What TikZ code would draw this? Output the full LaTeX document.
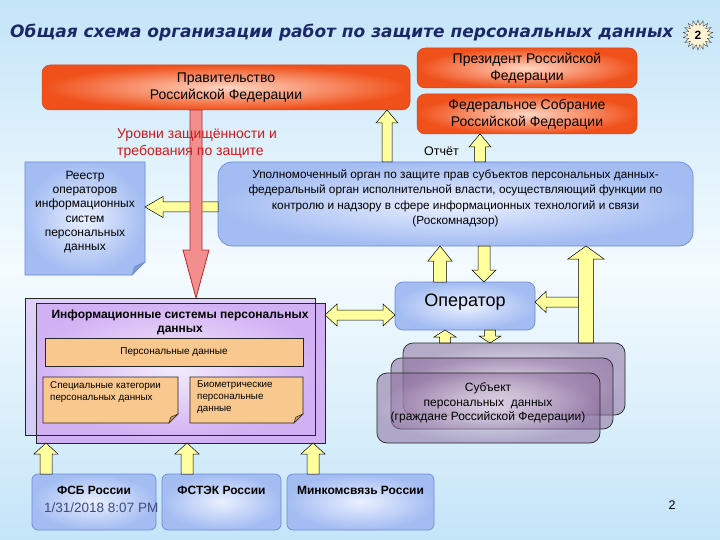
\documentclass[tikz,border=0pt]{standalone}
\usepackage{fontspec}
\setmainfont{Liberation Sans}
\newfontfamily\titlefont{DejaVu Sans}
\usetikzlibrary{calc,shapes.symbols}
\definecolor{bgblue}{HTML}{C4E4F8}
\definecolor{bgmid}{HTML}{F4FBFE}
\definecolor{orangeo}{HTML}{F0501A}
\definecolor{orangei}{HTML}{FFD6C4}
\definecolor{orangeline}{HTML}{D8441A}
\definecolor{blueo}{HTML}{A3BCF2}
\definecolor{bluei}{HTML}{EAF0FF}
\definecolor{blueline}{HTML}{6F8AD6}
\definecolor{lavo}{HTML}{D2B0F4}
\definecolor{lavi}{HTML}{F4ECFC}
\definecolor{pdorange}{HTML}{F9C88E}
\definecolor{subjo}{HTML}{8E6E9E}
\definecolor{subji}{HTML}{F0E8F2}
\definecolor{yfill}{HTML}{FFFF9E}
\definecolor{rfill}{HTML}{F28E8E}
\definecolor{rline}{HTML}{B8282A}
\definecolor{navy}{HTML}{1A2868}
\definecolor{redtext}{HTML}{D01818}
\definecolor{datecol}{HTML}{3E4C7E}
\definecolor{badgefill}{HTML}{FFF3D4}
\definecolor{foldblue}{HTML}{7E98DA}
\definecolor{foldorange}{HTML}{D89A5A}

\newcommand\myVarrow[6]{\filldraw[#1] let \p1=#2, \p2=#3, \n1={((\y2>\y1)*2-1)*#6} in
  (\x1-#4,\y1) -- (\x1-#4,\y2-\n1) -- (\x1-#5,\y2-\n1) -- (\x1,\y2) -- (\x1+#5,\y2-\n1) -- (\x1+#4,\y2-\n1) -- (\x1+#4,\y1) -- cycle;}
\newcommand\myHarrow[6]{\filldraw[#1] let \p1=#2, \p2=#3, \n1={((\x2>\x1)*2-1)*#6} in
  (\x1,\y1-#4) -- (\x2-\n1,\y1-#4) -- (\x2-\n1,\y1-#5) -- (\x2,\y1) -- (\x2-\n1,\y1+#5) -- (\x2-\n1,\y1+#4) -- (\x1,\y1+#4) -- cycle;}
\newcommand\myDHarrow[6]{\filldraw[#1] let \p1=#2, \p2=#3, \n1={((\x2>\x1)*2-1)*#6} in
  (\x1,\y1) -- (\x1+\n1,\y1-#5) -- (\x1+\n1,\y1-#4) -- (\x2-\n1,\y1-#4) -- (\x2-\n1,\y1-#5) -- (\x2,\y1) -- (\x2-\n1,\y1+#5) -- (\x2-\n1,\y1+#4) -- (\x1+\n1,\y1+#4) -- (\x1+\n1,\y1+#5) -- cycle;}
\newcommand\myNote[4]{%
  \path[#3] (#1.north west) -- (#1.north east) -- ([yshift=#2]#1.south east) -- ([xshift=-#2]#1.south east) -- (#1.south west) -- cycle;
  \path[#4] ([yshift=#2]#1.south east) -- ([xshift=-#2]#1.south east) -- ([xshift=-0.8*#2,yshift=0.65*#2]#1.south east) -- cycle;}

\tikzset{
  fs/.style 2 args={font=\fontsize{#1}{#2}\selectfont},
  obox/.style={rounded corners=8pt, draw=orangeline, line width=0.5pt, inner color=orangei, outer color=orangeo},
  bbox/.style={draw=blueline, line width=0.7pt, inner color=bluei, outer color=blueo},
  lbox/.style={draw=black!85, line width=0.7pt, inner color=lavi, outer color=lavo},
  sbox/.style={rounded corners=10pt, draw=black!85, line width=0.7pt, inner color=subji, outer color=subjo, fill opacity=0.55},
  shape0/.style={inner sep=0pt, outer sep=0pt},
  yarr/.style={fill=yfill, draw=black, line width=0.5pt, line join=miter},
  rarr/.style={fill=rfill, draw=rline, line width=0.8pt, line join=miter},
}

\begin{document}
\begin{tikzpicture}[x=1pt,y=-1pt]
\useasboundingbox (0,0) rectangle (720,540);
\fill[top color=bgblue, bottom color=bgblue, middle color=bgmid] (0,0) rectangle (720,540);

% title
\node[anchor=west, text=navy, inner sep=0pt, font=\titlefont\bfseries\itshape\fontsize{17}{20}\selectfont] (title) at (10,33) {Общая схема организации работ по защите персональных данных};
\node[starburst, starburst points=18, starburst point height=5pt, random starburst=0, draw=black!75, line width=0.4pt, fill=badgefill, minimum width=30pt, minimum height=30pt, inner sep=0pt, font=\bfseries\fontsize{12}{12}\selectfont] (badge) at (698,35) {2};

% top level
\node[obox, shape0, minimum width=368pt, minimum height=45pt, align=center, fs={14}{17}] (gov) at (226,87.5) {Правительство\\Российской Федерации};
\node[obox, shape0, minimum width=220pt, minimum height=40pt, align=center, fs={14}{17}] (pres) at (527,68) {Президент Российской\\Федерации};
\node[obox, shape0, minimum width=220pt, minimum height=40pt, align=center, fs={14}{17}] (fed) at (527,114) {Федеральное Собрание\\Российской Федерации};

% Roskomnadzor
\node[bbox, rounded corners=14pt, shape0, minimum width=475pt, minimum height=84pt] (rkn) at (455.5,204) {};
\node[align=center, fs={11.8}{15.5}, inner sep=0pt] (rknt) at (455.5,198.5) {Уполномоченный орган по защите прав субъектов персональных данных-\\федеральный орган исполнительной власти, осуществляющий функции по\\контролю и надзору в сфере информационных технологий и связи\\(Роскомнадзор)};

% registry
\node[shape0, minimum width=120pt, minimum height=113pt] (regbox) at (85,218.5) {};
\myNote{regbox}{13pt}{bbox}{fill=foldblue, draw=blueline, line width=0.5pt}
\node[align=center, fs={12}{14.3}, inner sep=0pt] (reg) at (85,212) {Реестр\\операторов\\информационных\\систем\\персональных\\данных};

% yellow arrows to top
\myVarrow{yarr}{(387,0 |- rkn.north)}{(387,0 |- gov.south)}{5pt}{11pt}{13pt}
\myVarrow{yarr}{(480,0 |- rkn.north)}{(480,0 |- fed.south)}{5.5pt}{11pt}{13pt}
\myHarrow{yarr}{(0,207 -| rkn.west)}{(0,207 -| regbox.east)}{5pt}{10.5pt}{18pt}

% red arrow
\node[shape0, minimum width=290pt, minimum height=137pt] (ispdA) at (170,366.5) {};
\myVarrow{rarr}{(196,0 |- gov.south)}{(196,0 |- ispdA.north)}{6pt}{13pt}{48pt}

\node[anchor=west, align=left, text=redtext, inner sep=0pt, fs={14}{17}] (lvl) at (117,143.5) {Уровни защищённости и\\требования по защите};
\node[anchor=west, inner sep=0pt, fs={12.5}{14}] (rep) at (424,151) {Отчёт};

% ISPD
\node[shape0, minimum width=289pt, minimum height=140pt] (ispdB) at (180.5,373) {};
\path[lbox] (ispdB.north west) rectangle (ispdB.south east);
\path[lbox, fill opacity=0.55] (ispdA.north west) rectangle (ispdA.south east);
\draw[black!85, line width=0.7pt] (ispdB.north west) rectangle (ispdB.south east);
\node[align=center, inner sep=0pt, font=\bfseries\fontsize{12}{14}\selectfont] (ispdt) at (180,322) {Информационные системы персональных\\данных};
\node[draw=black!85, line width=0.6pt, fill=pdorange, shape0, minimum width=258pt, minimum height=28pt, fs={10}{12}] (pd) at (174,352) {Персональные данные};
\node[shape0, minimum width=135pt, minimum height=46pt] (specbox) at (110.5,400) {};
\myNote{specbox}{9pt}{fill=pdorange, draw=black!85, line width=0.6pt}{fill=foldorange, draw=black!85, line width=0.5pt}
\node[anchor=north west, align=left, inner sep=0pt, fs={9.8}{12}] (spec) at (50,381) {Специальные категории\\персональных данных};
\node[shape0, minimum width=113pt, minimum height=46pt] (biobox) at (246.5,400) {};
\myNote{biobox}{9pt}{fill=pdorange, draw=black!85, line width=0.6pt}{fill=foldorange, draw=black!85, line width=0.5pt}
\node[anchor=north west, align=left, inner sep=0pt, fs={9.8}{12}] (bio) at (197,381) {Биометрические\\персональные\\данные};

% operator
\node[bbox, rounded corners=8pt, shape0, minimum width=140pt, minimum height=48pt, fs={18}{20}, text height=12pt, text depth=12pt] (op) at (465,306) {Оператор};

% subject boxes
\node[shape0, minimum width=222pt, minimum height=72pt] (subj3) at (514,379) {};
\node[shape0, minimum width=222pt, minimum height=71pt] (subj2) at (502,393.5) {};
\node[shape0, minimum width=223pt, minimum height=70pt] (subj1) at (488.5,408) {};

% arrows around operator
\myVarrow{yarr}{(440,0 |- op.north)}{(440,0 |- rkn.south)}{6.5pt}{12pt}{15pt}
\myVarrow{yarr}{(484,0 |- rkn.south)}{(484,0 |- op.north)}{6pt}{12pt}{12pt}
\myDHarrow{yarr}{(0,315 -| ispdB.east)}{(0,315 -| op.west)}{5pt}{11pt}{12pt}
\myHarrow{yarr}{(585,302)}{(0,302 -| op.east)}{5pt}{10.5pt}{11pt}
\myVarrow{yarr}{(586,0 |- subj3.north)}{(586,0 |- rkn.south)}{7.5pt}{18pt}{13pt}
\myVarrow{yarr}{(445,0 |- subj3.north)}{(445,0 |- op.south)}{5.5pt}{11pt}{7pt}
\myVarrow{yarr}{(490,0 |- op.south)}{(490,0 |- subj3.north)}{5.5pt}{11pt}{7pt}

\path[sbox] (subj3.north west) rectangle (subj3.south east);
\path[sbox] (subj2.north west) rectangle (subj2.south east);
\path[sbox] (subj1.north west) rectangle (subj1.south east);
\node[align=center, inner sep=0pt, fs={12}{14.5}] (subj) at (488,403) {Субъект\\персональных\ \ данных\\(граждане Российской Федерации)};

% bottom boxes
\node[bbox, rounded corners=6pt, shape0, minimum width=124pt, minimum height=56pt, font=\bfseries\fontsize{12}{13}\selectfont, text height=9pt, text depth=25pt] (fsb) at (94,502) {ФСБ России};
\node[bbox, rounded corners=6pt, shape0, minimum width=119pt, minimum height=56pt, font=\bfseries\fontsize{12}{13}\selectfont, text height=9pt, text depth=25pt] (fstek) at (221.5,502) {ФСТЭК России};
\node[bbox, rounded corners=6pt, shape0, minimum width=147pt, minimum height=56pt, font=\bfseries\fontsize{12}{13}\selectfont, text height=9pt, text depth=25pt] (mink) at (360.5,502) {Минкомсвязь России};

\myVarrow{yarr}{(46,0 |- fsb.north)}{(46,0 |- ispdB.south)}{6pt}{12pt}{11pt}
\myVarrow{yarr}{(187,0 |- fstek.north)}{(187,0 |- ispdB.south)}{6pt}{12pt}{11pt}
\myVarrow{yarr}{(313,0 |- mink.north)}{(313,0 |- ispdB.south)}{6pt}{12pt}{11pt}

\node[anchor=west, inner sep=0pt, text=datecol, fs={13.5}{15}] (date) at (44,508) {1/31/2018 8:07 PM};
\node[inner sep=0pt, fs={12.5}{14}] (page) at (672,505) {2};
\end{tikzpicture}
\end{document}
